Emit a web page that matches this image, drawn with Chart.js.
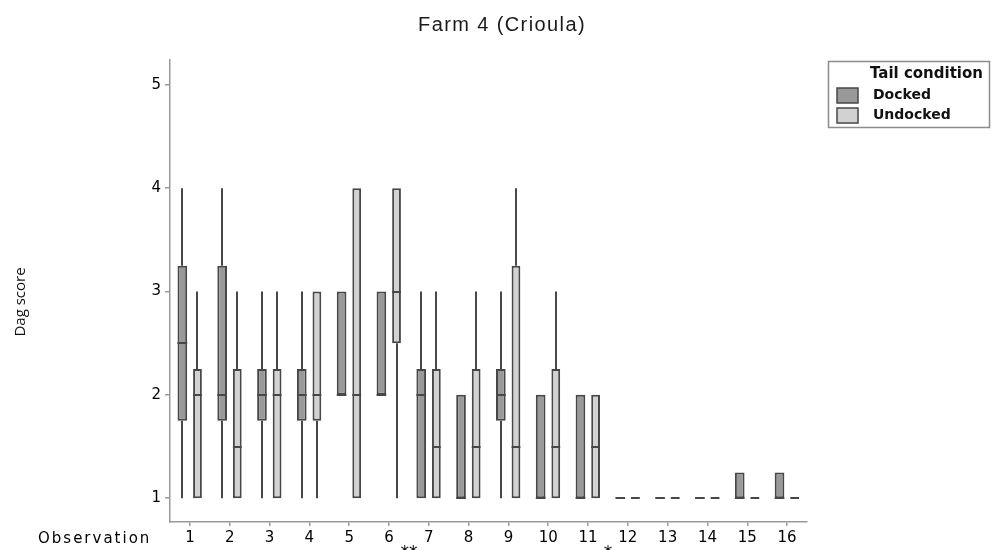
<!DOCTYPE html>
<html>
<head>
<meta charset="utf-8">
<script src="https://cdn.jsdelivr.net/npm/chart.js@4/dist/chart.umd.min.js"></script>
<style>
  html, body { margin: 0; padding: 0; background: #ffffff; }
  #wrap { width: 992px; height: 550px; position: relative; }
</style>
</head>
<body>
<div id="wrap"><canvas id="c" width="992" height="550"></canvas></div>
<script>
// ---- data ----
const categories = ['1','2','3','4','5','6','7','8','9','10','11','12','13','14','15','16'];
const yTicks = [1, 2, 3, 4, 5];

const dockedMin = [1,    1,    1,    1,    2, 2, 1,    1, 1,    1, 1, 1, 1, 1, 1,    1];
const dockedQ1  = [1.75, 1.75, 1.75, 1.75, 2, 2, 1,    1, 1.75, 1, 1, 1, 1, 1, 1,    1];
const dockedMed = [2.5,  2,    2,    2,    2, 2, 2,    1, 2,    1, 1, 1, 1, 1, 1,    1];
const dockedQ3  = [3.25, 3.25, 2.25, 2.25, 3, 3, 2.25, 2, 2.25, 2, 2, 1, 1, 1, 1.25, 1.25];
const dockedMax = [4,    4,    3,    3,    3, 3, 3,    2, 3,    2, 2, 1, 1, 1, 1.25, 1.25];

const undockedMin = [1,    1,    1,    1,    1, 1,   1,    1,    1,    1,    1,   1, 1, 1, 1, 1];
const undockedQ1  = [1,    1,    1,    1.75, 1, 2.5, 1,    1,    1,    1,    1,   1, 1, 1, 1, 1];
const undockedMed = [2,    1.5,  2,    2,    2, 3,   1.5,  1.5,  1.5,  1.5,  1.5, 1, 1, 1, 1, 1];
const undockedQ3  = [2.25, 2.25, 2.25, 3,    4, 4,   2.25, 2.25, 3.25, 2.25, 2,   1, 1, 1, 1, 1];
const undockedMax = [3,    3,    3,    3,    4, 4,   3,    3,    4,    3,    2,   1, 1, 1, 1, 1];

const sigLabels = ['**', '*'];
const sigAfter  = ['6', '11'];   // mark sits between this observation and the next

const titleText = 'Farm 4 (Crioula)';
const yTitle = 'Dag score';
const xTitle = 'Observation';
const legendTitle = 'Tail condition';

// ---- chart ----
const stats = [
  { min: dockedMin, q1: dockedQ1, med: dockedMed, q3: dockedQ3, max: dockedMax },
  { min: undockedMin, q1: undockedQ1, med: undockedMed, q3: undockedQ3, max: undockedMax }
];

const LINE = '#474747';

const boxPlugin = {
  id: 'boxParts',
  beforeDatasetsDraw(chart) {
    const ctx = chart.ctx, y = chart.scales.y;
    ctx.save();
    ctx.strokeStyle = LINE;
    ctx.lineWidth = 2;
    stats.forEach((s, d) => {
      const meta = chart.getDatasetMeta(d);
      meta.data.forEach((bar, i) => {
        const x = Math.round(bar.x);
        ctx.beginPath();
        if (s.min[i] < s.q1[i]) {
          ctx.moveTo(x, y.getPixelForValue(s.min[i]));
          ctx.lineTo(x, y.getPixelForValue(s.q1[i]));
        }
        if (s.max[i] > s.q3[i]) {
          ctx.moveTo(x, y.getPixelForValue(s.q3[i]));
          ctx.lineTo(x, y.getPixelForValue(s.max[i]));
        }
        ctx.stroke();
      });
    });
    ctx.restore();
  },
  afterDatasetsDraw(chart) {
    const ctx = chart.ctx, y = chart.scales.y;
    ctx.save();
    ctx.strokeStyle = LINE;
    ctx.lineWidth = 2;
    stats.forEach((s, d) => {
      const meta = chart.getDatasetMeta(d);
      meta.data.forEach((bar, i) => {
        const py = Math.round(y.getPixelForValue(s.med[i]));
        ctx.beginPath();
        ctx.moveTo(bar.x - bar.width / 2, py);
        ctx.lineTo(bar.x + bar.width / 2, py);
        ctx.stroke();
      });
    });
    ctx.restore();
  },
  afterDraw(chart) {
    const ctx = chart.ctx, xs = chart.scales.x;
    ctx.save();
    // title
    ctx.fillStyle = '#1a1a1a';
    ctx.font = '20px "Liberation Sans", Arial, sans-serif';
    ctx.letterSpacing = '1.4px';
    ctx.textAlign = 'center';
    ctx.textBaseline = 'middle';
    ctx.fillText(titleText, 502, 25);
    // y title
    ctx.letterSpacing = '0px';
    ctx.font = '15px "Open Sans", sans-serif';
    ctx.fillStyle = '#111';
    ctx.save();
    ctx.translate(21, 302);
    ctx.rotate(-Math.PI / 2);
    ctx.fillText(yTitle, 0, 0);
    ctx.restore();
    // x title
    ctx.font = '15px "DejaVu Sans", sans-serif';
    ctx.letterSpacing = '2px';
    ctx.textAlign = 'left';
    ctx.fillStyle = '#000';
    ctx.fillText(xTitle, 38, 539);
    ctx.letterSpacing = '0px';
    // significance marks (partly cut by the bottom edge, as in the source)
    ctx.textAlign = 'center';
    ctx.textBaseline = 'top';
    ctx.font = '17px "DejaVu Sans", sans-serif';
    sigLabels.forEach((lab, k) => {
      const idx = categories.indexOf(sigAfter[k]);
      const px = (xs.getPixelForValue(idx) + xs.getPixelForValue(idx + 1)) / 2;
      ctx.fillText(lab, px, 545);
    });
    // legend
    ctx.strokeStyle = '#8c8c8c';
    ctx.lineWidth = 1.5;
    ctx.strokeRect(828.5, 61.5, 161, 66);
    ctx.fillStyle = '#111';
    ctx.textAlign = 'left';
    ctx.textBaseline = 'middle';
    ctx.font = 'bold 15px "DejaVu Sans", sans-serif';
    ctx.fillText(legendTitle, 870, 74);
    ctx.font = 'bold 14px "DejaVu Sans", sans-serif';
    chart.data.datasets.forEach((ds, d) => {
      const ty = 95 + d * 20;
      ctx.fillStyle = ds.backgroundColor;
      ctx.fillRect(837, ty - 7, 21, 15);
      ctx.strokeStyle = LINE;
      ctx.lineWidth = 1.5;
      ctx.strokeRect(837, ty - 7, 21, 15);
      ctx.fillStyle = '#111';
      ctx.fillText(ds.label, 873, ty);
    });
    ctx.restore();
  }
};

new Chart(document.getElementById('c'), {
  type: 'bar',
  data: {
    labels: categories,
    datasets: [
      {
        label: 'Docked',
        data: categories.map((c, i) => [dockedQ1[i], dockedQ3[i]]),
        backgroundColor: '#999999',
        borderColor: LINE,
        borderWidth: 2,
        borderSkipped: false,
        categoryPercentage: 0.76,
        barPercentage: 0.64
      },
      {
        label: 'Undocked',
        data: categories.map((c, i) => [undockedQ1[i], undockedQ3[i]]),
        backgroundColor: '#d2d2d2',
        borderColor: LINE,
        borderWidth: 2,
        borderSkipped: false,
        categoryPercentage: 0.76,
        barPercentage: 0.58
      }
    ]
  },
  options: {
    responsive: false,
    animation: false,
    layout: { padding: { top: 60, right: 185, left: 0, bottom: 0 } },
    plugins: {
      legend: { display: false },
      title: { display: false },
      tooltip: { enabled: false }
    },
    scales: {
      x: {
        offset: true,
        grid: { drawOnChartArea: false, drawTicks: true, tickLength: 4, color: '#9a9a9a', lineWidth: 1.5, offset: false },
        border: { color: '#9a9a9a', width: 1.5 },
        ticks: { color: '#000', font: { family: 'DejaVu Sans', size: 15 }, padding: 3, maxRotation: 0, autoSkip: false },
        afterFit(scale) { scale.height = 28; }
      },
      y: {
        min: 0.77,
        max: 5.24,
        grid: { drawOnChartArea: false, drawTicks: true, tickLength: 5, color: '#9a9a9a', lineWidth: 1.5 },
        border: { color: '#9a9a9a', width: 1.5 },
        ticks: { color: '#000', font: { family: 'DejaVu Sans', size: 15 }, padding: 4 },
        afterBuildTicks(scale) { scale.ticks = yTicks.map(v => ({ value: v })); },
        afterFit(scale) { scale.width = 170; }
      }
    }
  },
  plugins: [boxPlugin]
});
</script>
</body>
</html>
